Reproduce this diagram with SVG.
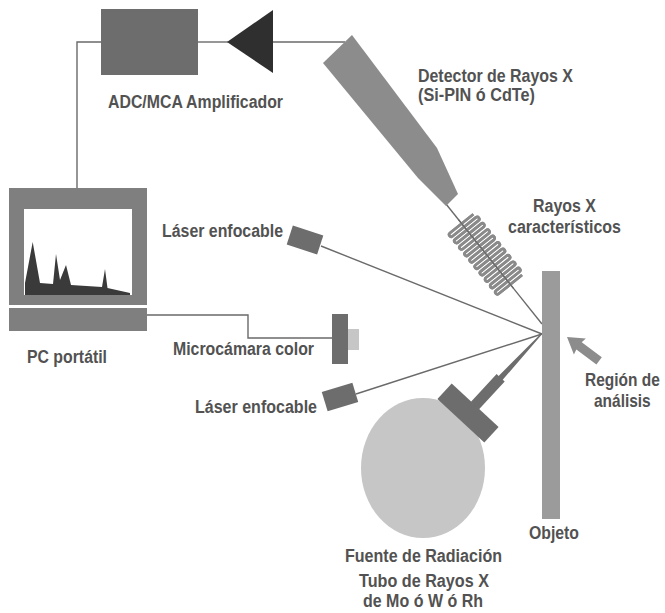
<svg xmlns="http://www.w3.org/2000/svg" width="665" height="613" viewBox="0 0 665 613">
  <defs>
    <style>
      .lbl { font-family: "Liberation Sans Narrow", "Liberation Sans", Arial, sans-serif; font-weight: bold; font-size: 18px; fill: #525252; }
      .wire { fill: none; stroke: #6a6a6a; stroke-width: 1.4; }
      .dark { fill: #6d6d6d; }
      .mid { fill: #8c8c8c; }
      .light { fill: #c6c6c6; }
    </style>
  </defs>
  <rect width="665" height="613" fill="#ffffff"/>

  <!-- connectors -->
  <g id="connectors">
    <polyline class="wire" points="101,42 77,42 77,189"/>
    <line class="wire" x1="198" y1="42" x2="228" y2="42"/>
    <line class="wire" x1="273" y1="42" x2="345" y2="42"/>
    <polyline class="wire" points="142,315 248,315 248,338 332,338"/>
    <line class="wire" x1="446" y1="204" x2="542" y2="324"/>
    <line class="wire" x1="321" y1="246" x2="542" y2="334"/>
    <line class="wire" x1="356" y1="394" x2="542" y2="334"/>
  </g>

  <!-- ADC / MCA box -->
  <g id="adc">
    <rect class="dark" x="101" y="9" width="97" height="66"/>
    <text class="lbl" x="108" y="108" textLength="175" lengthAdjust="spacingAndGlyphs">ADC/MCA Amplificador</text>
  </g>

  <!-- amplifier -->
  <g id="amplifier">
    <polygon points="227,42 273,10 273,73" fill="#2f2f2f"/>
  </g>

  <!-- detector -->
  <g id="detector">
    <polygon class="mid" points="323,63 352,35 437,148 458,194 446,206 418,178"/>
    <text class="lbl" x="418" y="82" textLength="155" lengthAdjust="spacingAndGlyphs">Detector de Rayos X</text>
    <text class="lbl" x="418" y="101" textLength="117" lengthAdjust="spacingAndGlyphs">(Si-PIN ó CdTe)</text>
  </g>

  <!-- characteristic x-rays (coil) -->
  <g id="rayos" transform="translate(486,254) rotate(51.3)">
    <path id="coil" fill="none" stroke="#8a8a8a" stroke-width="2.7" d="M-38.95 -15 V15
      a2.05 2.05 0 0 0 4.1 0 V-15 a2.05 2.05 0 0 1 4.1 0 V15
      a2.05 2.05 0 0 0 4.1 0 V-15 a2.05 2.05 0 0 1 4.1 0 V15
      a2.05 2.05 0 0 0 4.1 0 V-15 a2.05 2.05 0 0 1 4.1 0 V15
      a2.05 2.05 0 0 0 4.1 0 V-15 a2.05 2.05 0 0 1 4.1 0 V15
      a2.05 2.05 0 0 0 4.1 0 V-15 a2.05 2.05 0 0 1 4.1 0 V15
      a2.05 2.05 0 0 0 4.1 0 V-15 a2.05 2.05 0 0 1 4.1 0 V15
      a2.05 2.05 0 0 0 4.1 0 V-15 a2.05 2.05 0 0 1 4.1 0 V15
      a2.05 2.05 0 0 0 4.1 0 V-15 a2.05 2.05 0 0 1 4.1 0 V15
      a2.05 2.05 0 0 0 4.1 0 V-15 a2.05 2.05 0 0 1 4.1 0 V15
      a2.05 2.05 0 0 0 4.1 0 V-15"/>
    <use href="#coil" stroke="#ffffff" stroke-width="1.2"/>
    <line x1="-44" y1="0" x2="44" y2="0" stroke="#6a6a6a" stroke-width="1.2"/>
  </g>
  <g id="rayos-label">
    <text class="lbl" x="533" y="212" textLength="63" lengthAdjust="spacingAndGlyphs">Rayos X</text>
    <text class="lbl" x="508" y="233" textLength="113" lengthAdjust="spacingAndGlyphs">característicos</text>
  </g>

  <!-- PC -->
  <g id="pc">
    <rect x="9" y="188" width="138" height="117" fill="#7f7f7f"/>
    <rect x="9" y="308" width="138" height="23" fill="#7f7f7f"/>
    <rect x="24" y="209" width="108" height="86" fill="#ffffff"/>
    <polygon fill="#3a3a3a" points="25,295 25,283 32.7,242 40,283 53,284 56,254 60,280 66,265 71,285 102,287 105,269 107.5,288 130,293 130,295"/>
    <text class="lbl" x="27" y="363" textLength="80" lengthAdjust="spacingAndGlyphs">PC portátil</text>
  </g>

  <!-- upper laser -->
  <g id="laser-top">
    <rect class="dark" x="-16" y="-10" width="32" height="20" transform="translate(305,240) rotate(18)"/>
    <text class="lbl" x="162" y="237" textLength="121" lengthAdjust="spacingAndGlyphs">Láser enfocable</text>
  </g>

  <!-- microcamera -->
  <g id="camera">
    <rect class="dark" x="332" y="314" width="16" height="50"/>
    <rect class="light" x="348" y="329" width="11" height="21"/>
    <text class="lbl" x="173" y="355" textLength="141" lengthAdjust="spacingAndGlyphs">Microcámara color</text>
  </g>

  <!-- lower laser -->
  <g id="laser-bottom">
    <rect class="dark" x="-16" y="-10" width="32" height="20" transform="translate(340,397) rotate(-17)"/>
    <text class="lbl" x="195" y="413" textLength="122" lengthAdjust="spacingAndGlyphs">Láser enfocable</text>
  </g>

  <!-- x-ray tube -->
  <g id="tube">
    <ellipse class="light" cx="423" cy="468" rx="62" ry="70"/>
    <g transform="translate(468,413) rotate(-47.1)">
      <rect class="dark" x="-10.5" y="-32" width="21" height="64"/>
      <polygon class="dark" points="10,-5.5 48,-5.5 48,-2.8 108,-0.7 108,0.7 48,2.8 48,5.5 10,5.5"/>
    </g>
    <text class="lbl" x="345" y="562" textLength="157" lengthAdjust="spacingAndGlyphs">Fuente de Radiación</text>
    <text class="lbl" x="359" y="587" textLength="130" lengthAdjust="spacingAndGlyphs">Tubo de Rayos X</text>
    <text class="lbl" x="363" y="607" textLength="120" lengthAdjust="spacingAndGlyphs">de Mo ó W ó Rh</text>
  </g>

  <!-- object -->
  <g id="objeto">
    <rect x="542" y="271" width="18" height="248" fill="#9b9b9b"/>
    <text class="lbl" x="529" y="539" textLength="50" lengthAdjust="spacingAndGlyphs">Objeto</text>
  </g>

  <!-- analysis region -->
  <g id="region">
    <polygon class="mid" transform="translate(567,337) rotate(36.6)" points="0,0 16,-10 15,-4.5 40,-4.5 40,4.5 15,4.5 16,10"/>
    <text class="lbl" transform="translate(585,386) scale(0.86,1)">Región de</text>
    <text class="lbl" transform="translate(594,407) scale(0.86,1)">análisis</text>
  </g>
</svg>
